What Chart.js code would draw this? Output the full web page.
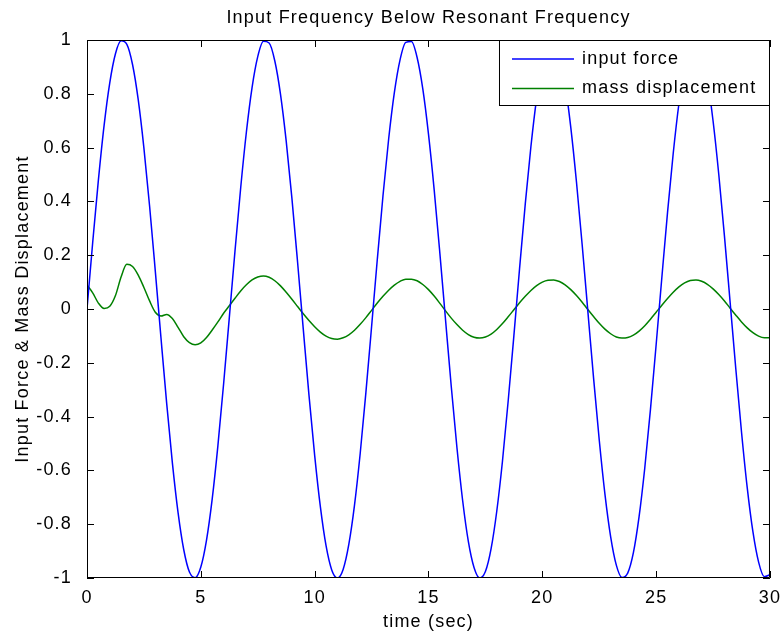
<!DOCTYPE html>
<html>
<head>
<meta charset="utf-8">
<script src="https://cdn.jsdelivr.net/npm/chart.js@4/dist/chart.umd.min.js"></script>
<style>
  html, body { margin: 0; padding: 0; background: #fff; }
  canvas { display: block; }
</style>
</head>
<body>
<canvas id="chart" width="781" height="636"></canvas>
<script>
const FONT = '"Liberation Sans", Arial, Helvetica, sans-serif'
const SPACING = '1.2px'

const chartTitle = 'Input Frequency Below Resonant Frequency'
const xTitle = 'time (sec)'
const yTitle = 'Input Force & Mass Displacement'
const seriesNames = ['input force', 'mass displacement']

// sample times (sec)
const time = [
  0, 0.25, 0.5, 0.75, 1, 1.25, 1.5, 1.75, 2, 2.25, 2.5, 2.75,
  3, 3.25, 3.5, 3.75, 4, 4.25, 4.5, 4.75, 5, 5.25, 5.5, 5.75,
  6, 6.25, 6.5, 6.75, 7, 7.25, 7.5, 7.75, 8, 8.25, 8.5, 8.75,
  9, 9.25, 9.5, 9.75, 10, 10.25, 10.5, 10.75, 11, 11.25, 11.5, 11.75,
  12, 12.25, 12.5, 12.75, 13, 13.25, 13.5, 13.75, 14, 14.25, 14.5, 14.75,
  15, 15.25, 15.5, 15.75, 16, 16.25, 16.5, 16.75, 17, 17.25, 17.5, 17.75,
  18, 18.25, 18.5, 18.75, 19, 19.25, 19.5, 19.75, 20, 20.25, 20.5, 20.75,
  21, 21.25, 21.5, 21.75, 22, 22.25, 22.5, 22.75, 23, 23.25, 23.5, 23.75,
  24, 24.25, 24.5, 24.75, 25, 25.25, 25.5, 25.75, 26, 26.25, 26.5, 26.75,
  27, 27.25, 27.5, 27.75, 28, 28.25, 28.5, 28.75, 29, 29.25, 29.5, 29.75,
  30,
]

const inputForce = [
  0, 0.247, 0.479, 0.682, 0.841, 0.949, 0.997, 0.984, 0.909, 0.778, 0.598, 0.382,
  0.141, -0.108, -0.351, -0.572, -0.757, -0.895, -0.978, -0.999, -0.959, -0.859, -0.706, -0.508,
  -0.279, -0.033, 0.215, 0.45, 0.657, 0.823, 0.938, 0.995, 0.989, 0.922, 0.798, 0.624,
  0.412, 0.174, -0.075, -0.32, -0.544, -0.735, -0.88, -0.97, -1, -0.968, -0.875, -0.729,
  -0.537, -0.311, -0.066, 0.183, 0.42, 0.632, 0.804, 0.926, 0.991, 0.994, 0.935, 0.818,
  0.65, 0.443, 0.207, -0.042, -0.288, -0.516, -0.712, -0.864, -0.961, -1, -0.976, -0.891,
  -0.751, -0.565, -0.342, -0.1, 0.15, 0.39, 0.605, 0.783, 0.913, 0.986, 0.997, 0.946,
  0.837, 0.675, 0.472, 0.239, -0.009, -0.256, -0.487, -0.688, -0.846, -0.952, -0.998, -0.982,
  -0.906, -0.772, -0.591, -0.373, -0.132, 0.117, 0.359, 0.579, 0.763, 0.899, 0.979, 0.999,
  0.956, 0.854, 0.699, 0.501, 0.271, 0.024, -0.224, -0.458, -0.664, -0.828, -0.941, -0.995,
  -0.988,
]

const massDisplacement = [
  0.089, 0.06, 0.022, 0.002, 0.01, 0.05, 0.12, 0.166, 0.158, 0.126, 0.08, 0.03,
  -0.012, -0.026, -0.02, -0.035, -0.068, -0.103, -0.125, -0.133, -0.126, -0.106, -0.078, -0.048,
  -0.016, 0.012, 0.04, 0.067, 0.09, 0.108, 0.119, 0.123, 0.118, 0.105, 0.086, 0.062,
  0.036, 0.009, -0.018, -0.043, -0.066, -0.086, -0.101, -0.11, -0.112, -0.107, -0.096, -0.079,
  -0.057, -0.032, -0.005, 0.022, 0.047, 0.07, 0.089, 0.103, 0.111, 0.111, 0.105, 0.091,
  0.072, 0.048, 0.021, -0.007, -0.034, -0.058, -0.079, -0.095, -0.105, -0.108, -0.104, -0.093,
  -0.076, -0.054, -0.029, -0.003, 0.023, 0.047, 0.069, 0.087, 0.1, 0.107, 0.108, 0.102,
  0.09, 0.072, 0.05, 0.025, -0.002, -0.028, -0.053, -0.075, -0.092, -0.104, -0.108, -0.106,
  -0.097, -0.082, -0.062, -0.038, -0.012, 0.014, 0.039, 0.062, 0.082, 0.097, 0.106, 0.108,
  0.103, 0.092, 0.075, 0.054, 0.03, 0.003, -0.023, -0.048, -0.07, -0.088, -0.101, -0.107,
  -0.107,
]

const xRange = [0, 30]
const yRange = [-1, 1]

const toPoints = (ys) => time.map((t, i) => ({ x: t, y: ys[i] }))

// MATLAB style box with inward ticks on all four sides
const matlabFrame = {
  id: 'matlabFrame',
  beforeDraw(chart) {
    chart.ctx.letterSpacing = SPACING
  },
  afterDatasetsDraw(chart) {
    const { ctx, chartArea: a, scales: { x, y } } = chart
    const tick = 7
    ctx.save()
    ctx.strokeStyle = '#000'
    ctx.lineWidth = 1
    ctx.beginPath()
    ctx.rect(a.left + 0.5, a.top + 0.5, a.right - a.left - 1, a.bottom - a.top - 1)
    x.ticks.forEach((t) => {
      const px = Math.round(x.getPixelForValue(t.value)) + 0.5
      ctx.moveTo(px, a.bottom); ctx.lineTo(px, a.bottom - tick)
      ctx.moveTo(px, a.top); ctx.lineTo(px, a.top + tick)
    })
    y.ticks.forEach((t) => {
      const py = Math.round(y.getPixelForValue(t.value)) + 0.5
      ctx.moveTo(a.left, py); ctx.lineTo(a.left + tick, py)
      ctx.moveTo(a.right, py); ctx.lineTo(a.right - tick, py)
    })
    ctx.stroke()

    // legend box, top right of the axes
    const w = 271, h = 66
    const lx = a.right - w, ly = a.top
    ctx.fillStyle = '#fff'
    ctx.fillRect(lx, ly, w, h)
    ctx.strokeRect(lx + 0.5, ly + 0.5, w - 1, h - 1)
    ctx.font = '18px ' + FONT
    ctx.letterSpacing = SPACING
    ctx.textBaseline = 'middle'
    ctx.textAlign = 'left'
    chart.data.datasets.forEach((ds, i) => {
      const cy = ly + 19 + i * 29.5
      ctx.strokeStyle = ds.borderColor
      ctx.lineWidth = 1.5
      ctx.beginPath()
      ctx.moveTo(lx + 13, cy); ctx.lineTo(lx + 75, cy)
      ctx.stroke()
      ctx.fillStyle = '#000'
      ctx.fillText(ds.label, lx + 83, cy)
    })
    ctx.restore()
  },
  afterDraw(chart) {
    const { ctx, chartArea: a } = chart
    ctx.save()
    ctx.font = '18px ' + FONT
    ctx.letterSpacing = SPACING
    ctx.fillStyle = '#000'
    ctx.textAlign = 'center'
    ctx.textBaseline = 'middle'
    ctx.fillText(chartTitle, (a.left + a.right) / 2, 18)
    ctx.restore()
  },
}

new Chart(document.getElementById('chart'), {
  type: 'line',
  data: {
    datasets: [
      {
        label: seriesNames[0],
        data: toPoints(inputForce),
        borderColor: '#0000ff',
        borderWidth: 1.5,
      },
      {
        label: seriesNames[1],
        data: toPoints(massDisplacement),
        borderColor: '#008000',
        borderWidth: 1.5,
      },
    ],
  },
  options: {
    responsive: false,
    animation: false,
    devicePixelRatio: 1,
    layout: { padding: { top: 40, right: 7, left: 0, bottom: 0 } },
    elements: { point: { radius: 0 }, line: { cubicInterpolationMode: 'monotone' } },
    plugins: {
      legend: { display: false },
      title: { display: false },
      tooltip: { enabled: false },
    },
    scales: {
      x: {
        type: 'linear',
        min: xRange[0],
        max: xRange[1],
        grid: { display: false },
        border: { display: false },
        ticks: {
          stepSize: 5,
          padding: 1,
          color: '#000',
          font: { family: FONT, size: 18 },
          maxRotation: 0,
        },
        title: {
          display: true,
          text: xTitle,
          color: '#000',
          font: { family: FONT, size: 18 },
          padding: { top: 0, bottom: 3 },
        },
        afterFit(scale) { scale.height = 58 },
      },
      y: {
        min: yRange[0],
        max: yRange[1],
        grid: { display: false },
        border: { display: false },
        ticks: {
          stepSize: 0.2,
          padding: 7,
          color: '#000',
          font: { family: FONT, size: 18 },
          callback: (v) => String(Math.round(v * 10) / 10),
        },
        title: {
          display: true,
          text: yTitle,
          color: '#000',
          font: { family: FONT, size: 18 },
          padding: { top: 12, bottom: 0 },
        },
        afterFit(scale) { scale.width = 87 },
      },
    },
  },
  plugins: [matlabFrame],
})
</script>
</body>
</html>
